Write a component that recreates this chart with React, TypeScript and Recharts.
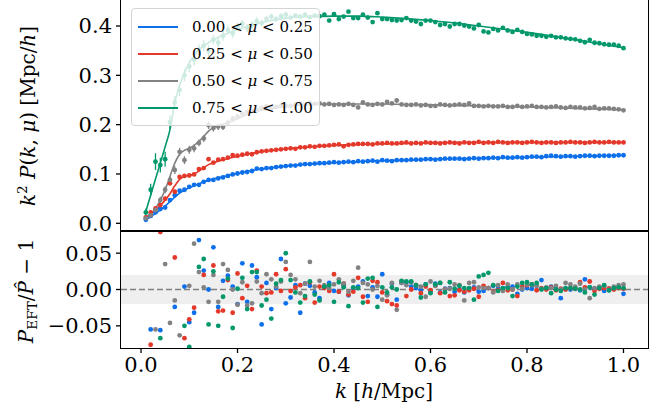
import React from "react";
import {
  ComposedChart,
  Scatter,
  Line,
  XAxis,
  YAxis,
  ErrorBar,
  ReferenceArea,
  ReferenceLine,
} from "recharts";

// k grid of the measurements, 0.01 ... 1.00 h/Mpc
const K = Array.from({ length: 100 }, (_, i) => (i + 1) / 100);

// measured k^2 P(k, mu) per mu wedge
const BLUE_PK = [
  0.007, 0.015, 0.022, 0.029, 0.032, 0.047, 0.057, 0.066, 0.068, 0.074,
  0.078, 0.078, 0.084, 0.088, 0.088, 0.091, 0.093, 0.096, 0.099, 0.101,
  0.103, 0.104, 0.106, 0.111, 0.110, 0.112, 0.112, 0.114, 0.115, 0.116,
  0.117, 0.117, 0.119, 0.120, 0.120, 0.121, 0.122, 0.122, 0.123, 0.124,
  0.123, 0.124, 0.125, 0.124, 0.126, 0.125, 0.126, 0.127, 0.125, 0.128,
  0.127, 0.126, 0.128, 0.128, 0.128, 0.129, 0.129, 0.129, 0.130, 0.130,
  0.129, 0.130, 0.131, 0.131, 0.131, 0.131, 0.130, 0.131, 0.132, 0.131,
  0.132, 0.132, 0.133, 0.132, 0.134, 0.133, 0.133, 0.134, 0.133, 0.134,
  0.135, 0.135, 0.134, 0.136, 0.137, 0.136, 0.135, 0.136, 0.136, 0.135,
  0.136, 0.137, 0.137, 0.136, 0.137, 0.137, 0.137, 0.137, 0.138, 0.138,
];
const RED_PK = [
  0.012, 0.022, 0.030, 0.037, 0.050, 0.081, 0.064, 0.094, 0.096, 0.097,
  0.099, 0.110, 0.112, 0.130, 0.123, 0.129, 0.130, 0.133, 0.138, 0.137,
  0.139, 0.141, 0.140, 0.144, 0.146, 0.147, 0.148, 0.149, 0.150, 0.151,
  0.152, 0.151, 0.154, 0.154, 0.156, 0.155, 0.157, 0.157, 0.158, 0.159,
  0.160, 0.156, 0.159, 0.160, 0.161, 0.161, 0.161, 0.160, 0.162, 0.162,
  0.163, 0.162, 0.162, 0.163, 0.164, 0.162, 0.163, 0.162, 0.164, 0.163,
  0.163, 0.162, 0.163, 0.164, 0.163, 0.162, 0.164, 0.163, 0.163, 0.165,
  0.163, 0.164, 0.163, 0.165, 0.164, 0.163, 0.164, 0.164, 0.163, 0.164,
  0.165, 0.164, 0.163, 0.164, 0.164, 0.163, 0.164, 0.164, 0.165, 0.164,
  0.164, 0.163, 0.164, 0.165, 0.164, 0.164, 0.165, 0.164, 0.164, 0.164,
];
const GRAY_PK = [
  0.010, 0.016, 0.027, 0.047, 0.068, 0.088, 0.108, 0.145, 0.128, 0.149,
  0.152, 0.163, 0.172, 0.199, 0.193, 0.196, 0.195, 0.204, 0.212, 0.216,
  0.222, 0.226, 0.228, 0.230, 0.234, 0.237, 0.233, 0.236, 0.239, 0.238,
  0.238, 0.241, 0.243, 0.241, 0.244, 0.242, 0.243, 0.241, 0.242, 0.240,
  0.241, 0.240, 0.242, 0.240, 0.235, 0.245, 0.241, 0.240, 0.242, 0.241,
  0.246, 0.243, 0.249, 0.241, 0.240, 0.240, 0.241, 0.239, 0.240, 0.238,
  0.238, 0.241, 0.240, 0.239, 0.240, 0.241, 0.240, 0.243, 0.238, 0.238,
  0.237, 0.238, 0.237, 0.237, 0.238, 0.236, 0.236, 0.238, 0.236, 0.237,
  0.238, 0.236, 0.236, 0.235, 0.236, 0.237, 0.235, 0.234, 0.236, 0.235,
  0.235, 0.233, 0.234, 0.236, 0.232, 0.233, 0.233, 0.232, 0.231, 0.229,
];
const GREEN_PK = [
  0.022, 0.068, 0.125, 0.118, 0.130, 0.205, 0.245, 0.270, 0.300, 0.318,
  0.332, 0.352, 0.360, 0.350, 0.372, 0.366, 0.380, 0.392, 0.385, 0.398,
  0.404, 0.396, 0.402, 0.410, 0.406, 0.414, 0.419, 0.414, 0.420, 0.423,
  0.417, 0.421, 0.419, 0.423, 0.418, 0.421, 0.420, 0.423, 0.411, 0.424,
  0.414, 0.419, 0.429, 0.416, 0.416, 0.423, 0.417, 0.408, 0.426, 0.414,
  0.414, 0.412, 0.411, 0.412, 0.416, 0.411, 0.409, 0.404, 0.411, 0.411,
  0.408, 0.402, 0.404, 0.399, 0.404, 0.404, 0.401, 0.399, 0.395, 0.402,
  0.389, 0.387, 0.394, 0.391, 0.396, 0.391, 0.388, 0.392, 0.388, 0.384,
  0.383, 0.380, 0.380, 0.378, 0.380, 0.377, 0.377, 0.375, 0.374, 0.373,
  0.370, 0.367, 0.372, 0.366, 0.365, 0.363, 0.362, 0.362, 0.360, 0.355,
];

// error bars, only noticeable at low k
const BLUE_ERR = [0.002, 0.003, 0.003, 0.003, 0.003, 0.003, 0.003, 0.003, 0.003, 0.003, 0.002, 0.002, 0.002, 0.002, 0.002];
const RED_ERR = [0.003, 0.004, 0.004, 0.004, 0.004, 0.004, 0.004, 0.004, 0.004, 0.004, 0.003, 0.003, 0.003, 0.003, 0.003];
const GRAY_ERR = [0.005, 0.006, 0.006, 0.007, 0.007, 0.008, 0.008, 0.008, 0.008, 0.008, 0.008, 0.007, 0.007, 0.008, 0.007, 0.007, 0.006, 0.006, 0.006, 0.006];
const GREEN_ERR = [
  0.008, 0.012, 0.017, 0.015, 0.015, 0.014, 0.013, 0.012, 0.012, 0.012,
  0.012, 0.011, 0.011, 0.011, 0.010, 0.010, 0.010, 0.009, 0.009, 0.009,
  0.008, 0.008, 0.008, 0.008, 0.007, 0.007, 0.006, 0.006, 0.006, 0.006,
];

// EFT model curves
const MODEL_K = [
  0.01, 0.02, 0.03, 0.04, 0.05, 0.06, 0.07, 0.08, 0.09, 0.1, 0.11, 0.12, 0.13,
  0.14, 0.15, 0.16, 0.18, 0.2, 0.22, 0.25, 0.3, 0.35, 0.4, 0.45, 0.5, 0.55, 0.6,
  0.7, 0.8, 0.9, 1.0,
];
const BLUE_MODEL = [
  0.007, 0.013, 0.020, 0.027, 0.035, 0.044, 0.053, 0.061, 0.067, 0.072, 0.076,
  0.080, 0.084, 0.087, 0.090, 0.092, 0.097, 0.101, 0.105, 0.110, 0.116, 0.120,
  0.123, 0.125, 0.127, 0.128, 0.130, 0.132, 0.134, 0.136, 0.138,
];
const RED_MODEL = [
  0.012, 0.019, 0.027, 0.036, 0.047, 0.060, 0.076, 0.089, 0.095, 0.097, 0.100,
  0.106, 0.113, 0.119, 0.123, 0.126, 0.131, 0.136, 0.140, 0.145, 0.151, 0.155,
  0.158, 0.160, 0.161, 0.162, 0.163, 0.164, 0.164, 0.164, 0.164,
];
const GRAY_MODEL = [
  0.010, 0.018, 0.030, 0.047, 0.068, 0.095, 0.122, 0.140, 0.148, 0.152, 0.158,
  0.166, 0.176, 0.187, 0.194, 0.198, 0.204, 0.212, 0.221, 0.229, 0.237, 0.241,
  0.242, 0.242, 0.242, 0.241, 0.240, 0.238, 0.236, 0.233, 0.230,
];
const GREEN_MODEL = [
  0.024, 0.057, 0.090, 0.122, 0.155, 0.190, 0.245, 0.280, 0.305, 0.325, 0.340,
  0.352, 0.360, 0.366, 0.372, 0.377, 0.386, 0.393, 0.399, 0.407, 0.416, 0.419,
  0.420, 0.420, 0.418, 0.415, 0.411, 0.400, 0.387, 0.372, 0.356,
];

// residuals P_EFT / P_hat - 1 (null = outside the panel)
const BLUE_RES = [
  null, -0.055, null, -0.056, null, null, -0.024, null, 0.004, -0.045,
  -0.032, 0.068, 0.026, 0.0, 0.058, -0.024, 0.012, 0.019, 0.004, -0.02,
  0.036, -0.017, 0.033, 0.017, -0.048, 0.009, -0.027, 0.002, 0.042, -0.019,
  -0.011, 0.006, -0.032, 0.008, 0.005, -0.004, -0.012, 0.003, 0.009, -0.002,
  -0.003, 0.006, -0.008, 0.002, 0.004, 0.011, -0.009, 0.003, -0.01, 0.021,
  -0.007, 0.008, -0.014, 0.009, 0.01, 0.004, 0.002, -0.001, 0.007, -0.003,
  0.008, -0.004, 0.001, 0.002, -0.003, 0.0, -0.004, 0.001, 0.003, -0.003,
  -0.002, 0.002, 0.005, 0.001, 0.002, 0.003, 0.004, -0.006, 0.0, 0.002,
  0.001, 0.005, 0.013, 0.002, 0.004, 0.001, -0.012, 0.001, 0.0, 0.002,
  -0.001, 0.014, 0.003, 0.001, 0.002, -0.002, 0.001, 0.002, 0.003, -0.006,
];
const RED_RES = [
  null, -0.076, null, 0.079, null, null, 0.044, null, -0.067, -0.041,
  -0.025, null, 0.02, null, 0.033, -0.03, -0.029, 0.013, -0.032, 0.022,
  -0.012, 0.005, -0.027, 0.026, 0.004, -0.005, -0.004, 0.021, -0.002, 0.028,
  -0.002, 0.003, 0.006, -0.012, 0.01, -0.018, 0.004, 0.002, -0.002, 0.021,
  -0.003, 0.008, -0.007, -0.003, 0.016, -0.01, -0.017, 0.012, 0.01, -0.004,
  -0.016, -0.02, -0.022, 0.011, -0.009, 0.0, 0.006, -0.005, 0.004, -0.001,
  0.005, -0.005, 0.0, -0.009, -0.008, -0.001, -0.003, -0.001, 0.001, -0.01,
  0.005, 0.002, -0.003, -0.001, 0.009, -0.001, 0.0, -0.009, 0.004, 0.006,
  0.007, -0.001, 0.002, 0.0, 0.003, -0.001, 0.001, 0.0, 0.002, 0.001,
  0.01, 0.003, 0.011, -0.002, 0.001, 0.002, 0.001, 0.0, 0.002, 0.001,
];
const GRAY_RES = [
  null, null, -0.055, null, 0.035, -0.046, -0.015, -0.063, null, 0.005,
  0.063, 0.024, 0.003, -0.017, 0.02, -0.017, 0.035, 0.027, 0.0, -0.021,
  0.01, -0.022, -0.019, 0.011, -0.005, 0.021, 0.014, 0.004, 0.011, 0.038,
  0.02, 0.014, -0.005, 0.008, 0.038, 0.004, 0.012, 0.006, 0.002, 0.007,
  0.014, 0.008, -0.003, 0.012, 0.03, 0.009, 0.007, 0.0, 0.005, -0.014,
  -0.008, 0.009, -0.028, 0.009, 0.006, 0.01, 0.006, 0.004, -0.01, 0.011,
  0.005, 0.009, 0.0, 0.001, 0.007, 0.006, -0.015, 0.009, 0.01, 0.003,
  0.002, 0.002, -0.004, 0.006, -0.002, 0.007, 0.0, 0.007, 0.001, 0.007,
  0.006, 0.005, 0.001, 0.003, 0.002, 0.005, 0.0, 0.009, 0.007, 0.004,
  0.008, 0.0, -0.012, 0.002, 0.004, 0.005, -0.001, 0.004, 0.006, 0.007,
];
const GREEN_RES = [
  null, null, null, -0.067, null, null, null, null, -0.05, -0.079,
  null, 0.031, 0.042, -0.048, 0.025, -0.05, -0.01, 0.015, -0.053, 0.001,
  0.016, -0.027, 0.024, 0.024, -0.022, -0.014, -0.04, 0.008, 0.013, 0.05,
  0.013, -0.004, -0.018, -0.009, 0.011, -0.007, -0.015, 0.004, 0.006, -0.017,
  0.01, 0.003, -0.023, 0.003, 0.002, -0.018, 0.015, 0.016, -0.024, 0.003,
  -0.004, 0.003, 0.0, 0.012, 0.011, 0.011, 0.006, -0.011, 0.007, -0.005,
  0.007, 0.009, -0.004, 0.01, 0.001, 0.005, 0.002, 0.002, -0.014, 0.018,
  0.02, 0.023, 0.006, -0.002, 0.002, 0.002, -0.009, 0.004, 0.009, 0.01,
  0.007, 0.009, 0.0, 0.002, -0.005, 0.0, -0.002, 0.002, 0.002, 0.001,
  0.0, -0.004, 0.003, -0.007, 0.002, 0.006, -0.001, 0.002, 0.003, 0.002,
];

const SERIES = [
  { label: ["0.00", "0.25"], color: "#0d6fe9", pk: BLUE_PK, err: BLUE_ERR, model: BLUE_MODEL, res: BLUE_RES },
  { label: ["0.25", "0.50"], color: "#e4382b", pk: RED_PK, err: RED_ERR, model: RED_MODEL, res: RED_RES },
  { label: ["0.50", "0.75"], color: "#828282", pk: GRAY_PK, err: GRAY_ERR, model: GRAY_MODEL, res: GRAY_RES },
  { label: ["0.75", "1.00"], color: "#03986c", pk: GREEN_PK, err: GREEN_ERR, model: GREEN_MODEL, res: GREEN_RES },
];

const FONT = "'DejaVu Serif', serif";
const tickStyle = { fontSize: 21, fontFamily: FONT, fill: "#000" };
const X_DOMAIN = [-0.0415, 1.0508];

const dot = (color: string) => (p: any) =>
  p.cx == null ? <g /> : <circle cx={p.cx} cy={p.cy} r={2.4} fill={color} />;

const fmtTop = (v: number) => v.toFixed(1);
const fmtRes = (v: number) => (v < 0 ? "\u2212" : "") + Math.abs(v).toFixed(2);
const fmtK = (v: number) => v.toFixed(1);

function TopPanel() {
  // plot area 121..648 x 0..231; extra bottom margin keeps the 0.0 label unclipped
  return (
    <ComposedChart width={670} height={250} margin={{ top: 0, right: 22, bottom: 19, left: 0 }}>
      <XAxis type="number" dataKey="k" domain={X_DOMAIN} hide allowDataOverflow />
      <YAxis
        type="number"
        dataKey="v"
        domain={[-0.0156, 0.4527]}
        ticks={[0, 0.1, 0.2, 0.3, 0.4]}
        interval={0}
        tickFormatter={fmtTop}
        width={121}
        axisLine={false}
        tickLine={{ stroke: "#000", strokeWidth: 1.3 }}
        tickSize={5}
        tickMargin={4}
        tick={tickStyle}
        allowDataOverflow
      />
      {SERIES.map((s, si) => (
        <Scatter
          key={"pts" + si}
          data={s.pk.map((v, i) => ({ k: K[i], v, e: s.err[i] ?? 0 }))}
          fill={s.color}
          shape={dot(s.color)}
          isAnimationActive={false}
        >
          <ErrorBar dataKey="e" direction="y" width={0} stroke={s.color} strokeWidth={1.3} isAnimationActive={false} />
        </Scatter>
      ))}
      {SERIES.map((s, si) => (
        <Line
          key={"mdl" + si}
          data={MODEL_K.map((k, i) => ({ k, v: s.model[i] }))}
          dataKey="v"
          type="monotone"
          stroke={s.color}
          strokeWidth={1.6}
          dot={false}
          activeDot={false}
          isAnimationActive={false}
        />
      ))}
    </ComposedChart>
  );
}

function BottomPanel() {
  return (
    <ComposedChart width={670} height={182} margin={{ top: 0, right: 22, bottom: 0, left: 0 }}>
      <XAxis
        type="number"
        dataKey="k"
        domain={X_DOMAIN}
        ticks={[0, 0.2, 0.4, 0.6, 0.8, 1.0]}
        interval={0}
        tickFormatter={fmtK}
        height={65}
        axisLine={false}
        tickLine={{ stroke: "#000", strokeWidth: 1.3 }}
        tickSize={5}
        tickMargin={4}
        tick={tickStyle}
        allowDataOverflow
      />
      <YAxis
        type="number"
        dataKey="v"
        domain={[-0.0805, 0.0805]}
        ticks={[-0.05, 0, 0.05]}
        interval={0}
        tickFormatter={fmtRes}
        width={121}
        axisLine={false}
        tickLine={{ stroke: "#000", strokeWidth: 1.3 }}
        tickSize={5}
        tickMargin={4}
        tick={tickStyle}
        allowDataOverflow
      />
      <ReferenceArea y1={-0.02} y2={0.02} fill="#efefef" fillOpacity={1} stroke="none" />
      <ReferenceLine y={0} stroke="#808080" strokeWidth={1.5} strokeDasharray="6 3" />
      {SERIES.map((s, si) => (
        <Scatter
          key={"res" + si}
          data={s.res
            .map((v, i) => ({ k: K[i], v }))
            .filter((d) => d.v !== null)}
          fill={s.color}
          shape={dot(s.color)}
          isAnimationActive={false}
        />
      ))}
    </ComposedChart>
  );
}

const Sub = ({ children }: { children: React.ReactNode }) => (
  <span style={{ fontSize: "0.68em", verticalAlign: "-0.3em" }}>{children}</span>
);
const Sup = ({ children }: { children: React.ReactNode }) => (
  <span style={{ fontSize: "0.68em", verticalAlign: "0.55em" }}>{children}</span>
);

export default function App() {
  const abs = (s: React.CSSProperties): React.CSSProperties => ({ position: "absolute", ...s });
  const labelStyle: React.CSSProperties = { fontFamily: FONT, fontSize: 20, whiteSpace: "nowrap", color: "#000" };
  return (
    <div style={abs({ left: 0, top: 0, width: 670, height: 413, background: "#fff", overflow: "hidden" })}>
      <div style={abs({ left: 0, top: 0 })}>
        <TopPanel />
      </div>
      <div style={abs({ left: 0, top: 231 })}>
        <BottomPanel />
      </div>

      {/* axes frames */}
      <div style={abs({ left: 120, top: -1, width: 529, height: 233, border: "1.6px solid #000", boxSizing: "border-box" })} />
      <div style={abs({ left: 120, top: 230, width: 529, height: 119, border: "1.6px solid #000", boxSizing: "border-box" })} />

      {/* legend */}
      <div
        style={abs({
          left: 131,
          top: 8,
          width: 189,
          height: 118,
          background: "rgba(255,255,255,0.8)",
          border: "1px solid #d4d4d4",
          borderRadius: 4,
          boxSizing: "border-box",
        })}
      >
        {SERIES.map((s, i) => (
          <div key={i} style={abs({ left: 0, top: 18 + i * 27 - 10, height: 20, width: 189 })}>
            <div style={abs({ left: 6, top: 9, width: 40, height: 2, background: s.color })} />
            <div style={abs({ left: 60, top: 0, fontFamily: FONT, fontSize: 15, lineHeight: "20px", whiteSpace: "nowrap" })}>
              {s.label[0]} &lt; <i>μ</i> &lt; {s.label[1]}
            </div>
          </div>
        ))}
      </div>

      {/* axis labels */}
      <div style={abs({ left: 27, top: 116, transform: "translate(-50%, -50%) rotate(-90deg)", ...labelStyle })}>
        <i>k</i>
        <Sup>2</Sup> <i>P</i>(<i>k</i>, <i>μ</i>) [Mpc/<i>h</i>]
      </div>
      <div style={abs({ left: 27, top: 291, transform: "translate(-50%, -50%) rotate(-90deg)", ...labelStyle })}>
        <i>P</i>
        <Sub>EFT</Sub>/<i>{"P\u0302"}</i> − 1
      </div>
      <div style={abs({ left: 384, top: 391, transform: "translate(-50%, -50%)", ...labelStyle })}>
        <i>k</i> [<i>h</i>/Mpc]
      </div>
    </div>
  );
}
